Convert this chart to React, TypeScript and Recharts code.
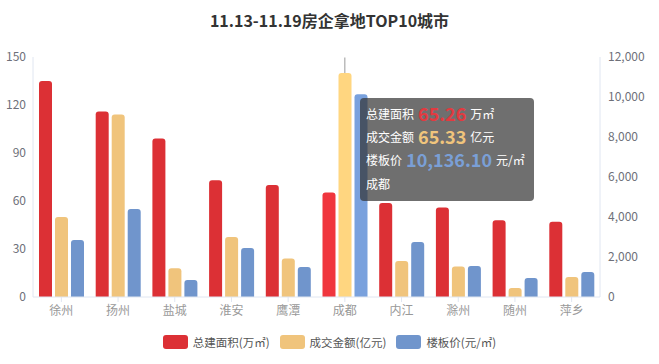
import { BarChart, Bar, XAxis, YAxis, Tooltip, Cell } from "recharts";

const cities = ["徐州", "扬州", "盐城", "淮安", "鹰潭", "成都", "内江", "滁州", "随州", "萍乡"];
const buildArea = [135, 116, 99, 73, 70, 65.26, 58.7, 56, 48, 47];
const dealAmount = [50, 114, 18, 37.5, 24, 140, 22.5, 19, 5.6, 12.5];
const floorPrice = [2850, 4400, 850, 2450, 1500, 10136.1, 2750, 1550, 950, 1250];
const leftTicks = [0, 30, 60, 90, 120, 150];
const rightTicks = [0, 2000, 4000, 6000, 8000, 10000, 12000];
// tooltip as shown in the source (成都)
const hoverIndex = 5;
const hoverAmountLabel = 65.33;

const COLORS = { area: "#dc3035", amount: "#f0c47c", price: "#7095cc" };
const ACTIVE = { area: "#f0363e", amount: "#ffd680", price: "#79a1dd" };

const data = cities.map((city, i) => ({
  city,
  area: buildArea[i],
  amount: dealAmount[i],
  price: floorPrice[i],
}));

const fmt = (v: number, d = 0) =>
  v.toLocaleString("en-US", { minimumFractionDigits: d, maximumFractionDigits: d });

const FONT = '"Noto Sans CJK SC", "Noto Sans", sans-serif';

const Cursor = (props: any) => {
  const { x, y, width, height } = props;
  const cx = x + width / 2;
  return <line x1={cx} x2={cx} y1={y} y2={y + height} stroke="#999" strokeWidth={1} />;
};

const TipContent = ({ payload }: any) => {
  if (!payload || !payload.length) return null;
  const row = payload[0].payload;
  const line = { display: "flex", alignItems: "center", gap: 4, height: 23, lineHeight: "23px" } as const;
  const big = { fontSize: 18, fontWeight: 700, lineHeight: "23px" } as const;
  return (
    <div
      style={{
        background: "rgba(50,50,50,0.7)",
        borderRadius: 4,
        padding: "4px 9px 4px 6px",
        color: "#fff",
        fontSize: 12,
        fontFamily: FONT,
        lineHeight: "23px",
      }}
    >
      <div style={line}>
        <span>总建面积</span>
        <span style={{ ...big, color: "#e23a40" }}>{fmt(row.area, 2)}</span>
        <span>万㎡</span>
      </div>
      <div style={line}>
        <span>成交金额</span>
        <span style={{ ...big, color: COLORS.amount }}>{fmt(hoverAmountLabel, 2)}</span>
        <span>亿元</span>
      </div>
      <div style={line}>
        <span>楼板价</span>
        <span style={{ ...big, color: "#7a9fd6" }}>{fmt(row.price, 2)}</span>
        <span>元/㎡</span>
      </div>
      <div style={{ height: 26, lineHeight: "26px" }}>{row.city}</div>
    </div>
  );
};

const legendItems = [
  { label: "总建面积(万㎡)", color: COLORS.area },
  { label: "成交金额(亿元)", color: COLORS.amount },
  { label: "楼板价(元/㎡)", color: COLORS.price },
];

export default function App() {
  return (
    <div style={{ position: "absolute", left: 0, top: 0, width: 659, height: 364, fontFamily: FONT }}>
      <div
        style={{
          position: "absolute",
          top: 8,
          width: 659,
          textAlign: "center",
          fontSize: 16,
          fontWeight: 700,
          color: "#333",
        }}
      >
        11.13-11.19房企拿地TOP10城市
      </div>
      <BarChart
        width={659}
        height={364}
        data={data}
        margin={{ top: 57, right: 0, bottom: 37, left: 0 }}
        barCategoryGap={5}
        barGap={3}
      >
        <XAxis
          dataKey="city"
          height={30}
          axisLine={{ stroke: "#e0e6f1" }}
          tickLine={{ stroke: "#e0e6f1" }}
          tickSize={5}
          tickMargin={4}
          tick={{ fill: "#999", fontSize: 12 }}
          interval={0}
        />
        <YAxis
          yAxisId="left"
          width={33}
          domain={[0, 150]}
          ticks={leftTicks}
          axisLine={{ stroke: "#e0e6f1" }}
          tickLine={false}
          tickSize={0}
          tickMargin={7}
          tick={{ fill: "#6e7079", fontSize: 12 }}
        />
        <YAxis
          yAxisId="right"
          orientation="right"
          width={59}
          domain={[0, 12000]}
          ticks={rightTicks}
          tickFormatter={(v: number) => fmt(v)}
          axisLine={{ stroke: "#e0e6f1" }}
          tickLine={false}
          tickSize={0}
          tickMargin={8}
          tick={{ fill: "#6e7079", fontSize: 12, textAnchor: "start" }}
        />
        <Tooltip
          active
          defaultIndex={hoverIndex}
          position={{ x: 360, y: 98 }}
          cursor={<Cursor />}
          content={<TipContent />}
          isAnimationActive={false}
          wrapperStyle={{ outline: "none" }}
        />
        <Bar yAxisId="left" dataKey="area" barSize={13} radius={[3, 3, 0, 0]} isAnimationActive={false}>
          {data.map((_, i) => (
            <Cell key={i} fill={i === hoverIndex ? ACTIVE.area : COLORS.area} />
          ))}
        </Bar>
        <Bar yAxisId="left" dataKey="amount" barSize={13} radius={[3, 3, 0, 0]} isAnimationActive={false}>
          {data.map((_, i) => (
            <Cell key={i} fill={i === hoverIndex ? ACTIVE.amount : COLORS.amount} />
          ))}
        </Bar>
        <Bar yAxisId="right" dataKey="price" barSize={13} radius={[3, 3, 0, 0]} isAnimationActive={false}>
          {data.map((_, i) => (
            <Cell key={i} fill={i === hoverIndex ? ACTIVE.price : COLORS.price} />
          ))}
        </Bar>
      </BarChart>
      <div
        style={{
          position: "absolute",
          top: 334,
          width: 659,
          display: "flex",
          justifyContent: "center",
          gap: 10,
          fontSize: 11.5,
          color: "#555",
        }}
      >
        {legendItems.map((it) => (
          <div key={it.label} style={{ display: "flex", alignItems: "center", gap: 5 }}>
            <span style={{ width: 25, height: 14, borderRadius: 3, background: it.color, display: "inline-block" }} />
            <span>{it.label}</span>
          </div>
        ))}
      </div>
    </div>
  );
}
